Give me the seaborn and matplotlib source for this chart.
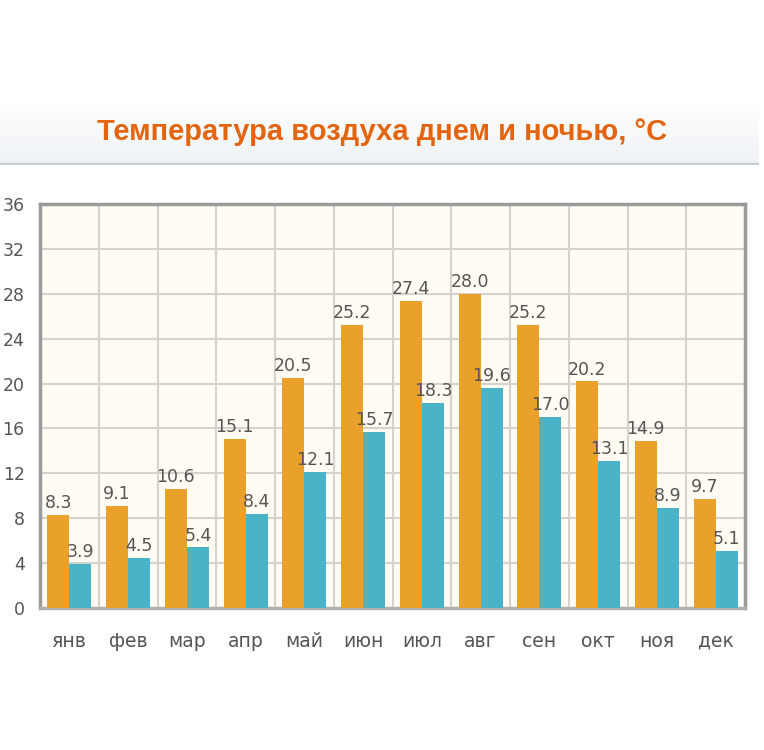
import numpy as np
import pandas as pd
import seaborn as sns
import matplotlib.pyplot as plt
from matplotlib.colors import LinearSegmentedColormap

months = ["янв", "фев", "мар", "апр", "май", "июн", "июл", "авг", "сен", "окт", "ноя", "дек"]
day_temp = [8.3, 9.1, 10.6, 15.1, 20.5, 25.2, 27.4, 28.0, 25.2, 20.2, 14.9, 9.7]
night_temp = [3.9, 4.5, 5.4, 8.4, 12.1, 15.7, 18.3, 19.6, 17.0, 13.1, 8.9, 5.1]
y_ticks = [0, 4, 8, 12, 16, 20, 24, 28, 32, 36]
title = "Температура воздуха днем и ночью, °C"

df = pd.DataFrame({
    "month": months * 2,
    "temp": day_temp + night_temp,
    "part": ["день"] * len(months) + ["ночь"] * len(months),
})

sns.set_style("white")
plt.rcParams["font.family"] = ["DejaVu Sans"]

fig = plt.figure(figsize=(7.64, 7.5), dpi=100)

# title band with a light gradient
band = fig.add_axes([0.0, 1 - 165 / 750, 0.993, 65 / 750])
grad = np.linspace(1.0, 0.0, 100).reshape(-1, 1)
band.imshow(grad, aspect="auto", cmap=LinearSegmentedColormap.from_list("g", ["#eef2f5", "#ffffff"]),
            extent=[0, 1, 0, 1])
band.set_xlim(0, 1)
band.set_ylim(0, 1)
band.axis("off")
band.axhline(0.01, color="#c8cdd2", lw=2.5)
band.text(0.503, 0.5, title, ha="center", va="center", fontsize=21, fontweight="bold",
          color="#e3650f", fontstretch="condensed",
          family=["Liberation Sans Narrow", "Liberation Sans", "DejaVu Sans"])

ax = fig.add_axes([40 / 764, 1 - 608 / 750, 705 / 764, 404 / 750])
ax.set_facecolor("#fffcf4")
sns.barplot(data=df, x="month", y="temp", hue="part", order=months,
            palette=["#eaa12b", "#4bb3c7"], width=0.75, saturation=1,
            linewidth=0, legend=False, ax=ax, zorder=3)

for cont in ax.containers:
    ax.bar_label(cont, fmt="%.1f", padding=2, fontsize=12.5, color="#555555")

ax.set_ylim(0, 36)
ax.set_yticks(y_ticks)
ax.set_xlim(-0.5, len(months) - 0.5)
ax.set_xticks(np.arange(-0.5, len(months)), minor=True)
ax.grid(True, axis="y", color="#d6d3cf", lw=1.5, zorder=0)
ax.grid(True, axis="x", which="minor", color="#d6d3cf", lw=1.5, zorder=0)
ax.tick_params(axis="x", which="major", length=0, pad=17, labelsize=13.5, labelcolor="#555555")
ax.tick_params(axis="x", which="minor", length=6, width=1.5, color="#aaaaaa", direction="out")
ax.tick_params(axis="y", length=7, width=1.5, color="#aaaaaa", direction="out",
               labelsize=12.5, labelcolor="#555555", pad=4)
ax.set_xlabel("")
ax.set_ylabel("")
for side in ["left", "top", "right", "bottom"]:
    ax.spines[side].set_visible(True)
    ax.spines[side].set_color("#9a9a9a")
    ax.spines[side].set_linewidth(2.5)
ax.spines["bottom"].set_color("#b0b0b0")

fig.savefig("out.png", dpi=100, facecolor="white")
